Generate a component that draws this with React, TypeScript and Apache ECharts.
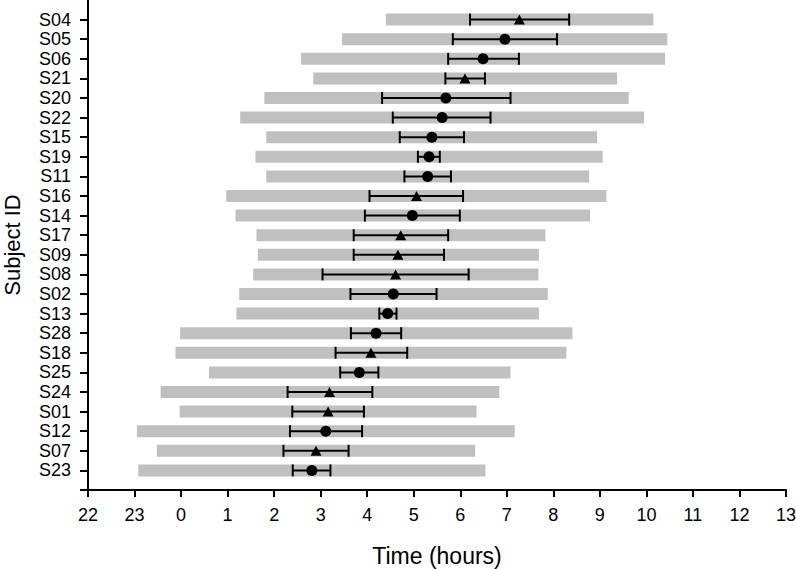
import React, { useEffect, useRef } from "react";
import * as echarts from "echarts";

// Subjects listed top to bottom
const subjects = ["S04","S05","S06","S21","S20","S22","S15","S19","S11","S16","S14","S17","S09","S08","S02","S13","S28","S18","S25","S24","S01","S12","S07","S23"];
// hours relative to midnight (negative = previous evening, 22 -> -2)
const rangeStart = [4.40, 3.46, 2.58, 2.84, 1.79, 1.27, 1.83, 1.60, 1.83, 0.97, 1.17, 1.62, 1.65, 1.55, 1.25, 1.19, -0.02, -0.12, 0.60, -0.44, -0.03, -0.95, -0.52, -0.92];
const rangeEnd = [10.15, 10.45, 10.40, 9.37, 9.62, 9.95, 8.94, 9.06, 8.77, 9.14, 8.79, 7.83, 7.69, 7.68, 7.88, 7.69, 8.41, 8.28, 7.08, 6.84, 6.35, 7.17, 6.32, 6.54];
const errLow = [6.21, 5.84, 5.74, 5.68, 4.32, 4.55, 4.70, 5.09, 4.80, 4.05, 3.95, 3.71, 3.71, 3.04, 3.64, 4.26, 3.65, 3.32, 3.42, 2.29, 2.39, 2.34, 2.20, 2.40];
const errHigh = [8.34, 8.08, 7.26, 6.53, 7.08, 6.65, 6.08, 5.56, 5.80, 6.06, 5.99, 5.74, 5.65, 6.18, 5.49, 4.63, 4.73, 4.86, 4.24, 4.11, 3.93, 3.89, 3.60, 3.21];
const meanVal = [7.27, 6.96, 6.49, 6.10, 5.69, 5.61, 5.39, 5.33, 5.30, 5.06, 4.97, 4.72, 4.66, 4.61, 4.56, 4.44, 4.19, 4.08, 3.83, 3.19, 3.16, 3.11, 2.90, 2.81];
const markerType = ["triangle","circle","circle","triangle","circle","circle","circle","circle","circle","triangle","circle","triangle","triangle","triangle","circle","circle","circle","triangle","circle","triangle","triangle","circle","triangle","circle"];

const xMin = -2;
const xMax = 13;

export default function App() {
  const ref = useRef<HTMLDivElement>(null);
  useEffect(() => {
    if (!ref.current) return;
    const chart = echarts.init(ref.current, null, { renderer: "svg" });
    const n = subjects.length;
    // category index: 1 = bottom subject, n = top subject
    const cats = ["", ...subjects.slice().reverse(), ""];
    const idxOf = (i: number) => n - i;

    const barData = subjects.map((_, i) => [rangeStart[i], rangeEnd[i], idxOf(i)]);
    const errData = subjects.map((_, i) => [errLow[i], errHigh[i], idxOf(i)]);
    const meanData = subjects.map((_, i) => ({
      value: [meanVal[i], idxOf(i)],
      symbol: markerType[i],
      symbolSize: markerType[i] === "circle" ? 11 : [11, 10],
    }));

    const font = "Liberation Sans, Arial, sans-serif";
    chart.setOption({
      animation: false,
      grid: { left: 88, right: 10, top: 0, bottom: 79, containLabel: false, outerBoundsMode: "none" },
      xAxis: {
        type: "value",
        min: xMin,
        max: xMax,
        interval: 1,
        splitLine: { show: false },
        axisLine: { show: true, onZero: false, lineStyle: { color: "#000", width: 2 } },
        axisTick: { show: true, length: 7, lineStyle: { color: "#000", width: 2 } },
        axisLabel: {
          color: "#000",
          fontSize: 18,
          fontFamily: font,
          margin: 16,
          formatter: (v: number) => String(((v % 24) + 24) % 24),
        },
        name: "Time (hours)",
        nameLocation: "middle",
        nameGap: 54,
        nameTextStyle: { color: "#000", fontSize: 23, fontFamily: font },
      },
      yAxis: {
        type: "category",
        data: cats,
        boundaryGap: false,
        axisLine: { show: true, onZero: false, lineStyle: { color: "#000", width: 2 } },
        axisTick: {
          show: true,
          length: 8,
          interval: (index: number) => index < cats.length - 1,
          lineStyle: { color: "#000", width: 2 },
        },
        axisLabel: { interval: 0, color: "#000", fontSize: 18, fontFamily: font, margin: 17 },
        splitLine: { show: false },
        name: "Subject ID",
        nameLocation: "middle",
        nameGap: 65,
        nameRotate: 90,
        nameTextStyle: { color: "#000", fontSize: 22, fontFamily: font },
      },
      series: [
        {
          type: "custom",
          z: 1,
          encode: { x: [0, 1], y: 2 },
          data: barData,
          renderItem: (params: any, api: any) => {
            const p0 = api.coord([api.value(0), api.value(2)]);
            const p1 = api.coord([api.value(1), api.value(2)]);
            return {
              type: "rect",
              shape: { x: p0[0], y: p0[1] - 6, width: p1[0] - p0[0], height: 12 },
              style: { fill: "#c0c0c0" },
            };
          },
        },
        {
          type: "custom",
          z: 2,
          encode: { x: [0, 1], y: 2 },
          data: errData,
          renderItem: (params: any, api: any) => {
            const p0 = api.coord([api.value(0), api.value(2)]);
            const p1 = api.coord([api.value(1), api.value(2)]);
            const st = { stroke: "#000", lineWidth: 2 };
            return {
              type: "group",
              children: [
                { type: "line", shape: { x1: p0[0], y1: p0[1], x2: p1[0], y2: p1[1] }, style: st },
                { type: "line", shape: { x1: p0[0], y1: p0[1] - 6, x2: p0[0], y2: p0[1] + 6 }, style: st },
                { type: "line", shape: { x1: p1[0], y1: p1[1] - 6, x2: p1[0], y2: p1[1] + 6 }, style: st },
              ],
            };
          },
        },
        {
          type: "scatter",
          z: 3,
          data: meanData,
          itemStyle: { color: "#000", opacity: 1 },
        },
      ],
    });
    return () => chart.dispose();
  }, []);
  return (
    <div
      ref={ref}
      style={{ position: "absolute", left: 0, top: 0, width: 796, height: 569, background: "#fff" }}
    />
  );
}
